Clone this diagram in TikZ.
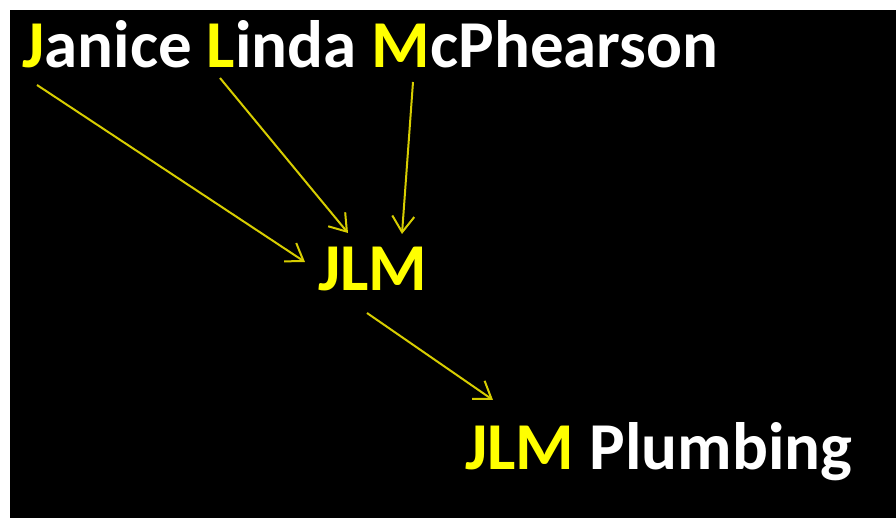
\documentclass[tikz,border=0pt]{standalone}
\usepackage{fontspec}
\setmainfont{Carlito}
\usetikzlibrary{arrows.meta}
\definecolor{initial}{RGB}{255,255,0}
\definecolor{linkcol}{RGB}{215,205,0}
\newcommand{\ini}[1]{\textcolor{initial}{#1}}

\begin{document}
\begin{tikzpicture}[x=0.5pt,y=-0.5pt,
    word/.style={anchor=base west,inner sep=0pt,text=white,
      font=\fontsize{33.5}{40}\selectfont\bfseries},
    link/.style={draw=linkcol,line width=1pt,
      -{Straight Barb[length=8pt,width=11pt]}}]
  \useasboundingbox (0,0) rectangle (896,518);
  \fill[white] (0,0) rectangle (896,518);
  \fill[black] (10,10) rectangle (896,518);

  \node[word] (name) at (22,68) {\ini{J}anice \ini{L}inda \ini{M}cPhearson};
  \node[word,text=initial] (jlm) at (318,291) {JLM};
  \node[word] (firm) at (465,470) {\ini{JLM} Plumbing};

  \coordinate (fromj) at (37,85);
  \coordinate (froml) at (220,78);
  \coordinate (fromm) at (413,82);
  \coordinate (toj) at (305,262);
  \coordinate (tol) at (348,233);
  \coordinate (tom) at (402,234);
  \coordinate (fromjlm) at (367,313);
  \coordinate (tofirm) at (493,400);

  \draw[link] (fromj) -- (toj);
  \draw[link] (froml) -- (tol);
  \draw[link] (fromm) -- (tom);
  \draw[link] (fromjlm) -- (tofirm);
\end{tikzpicture}
\end{document}
